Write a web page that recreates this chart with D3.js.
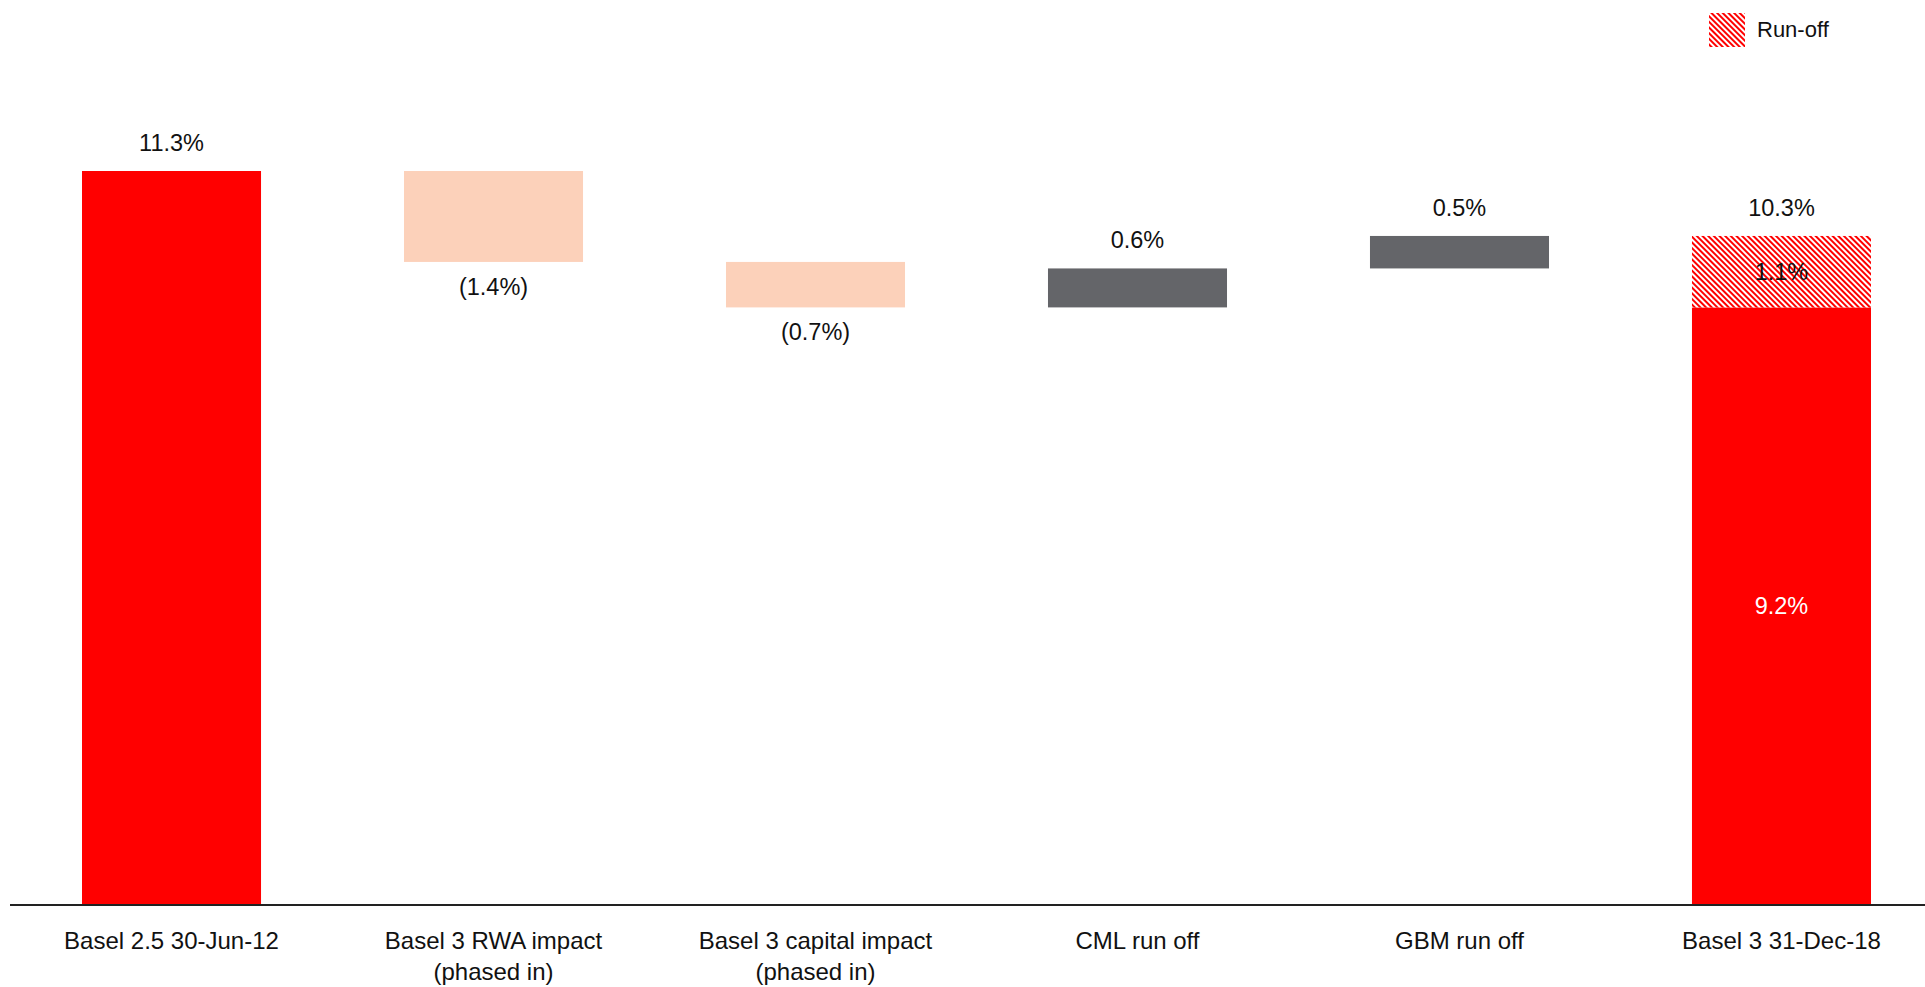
<!DOCTYPE html>
<html>
<head>
<meta charset="utf-8">
<script src="https://cdn.jsdelivr.net/npm/d3@7"></script>
<style>
  html, body { margin: 0; padding: 0; background: #fff; }
  svg { display: block; }
  text { font-family: "Liberation Sans", Arial, sans-serif; fill: #111; }
</style>
</head>
<body>
<svg id="chart" width="1925" height="987"></svg>
<script>
// ---- Data ----
const categories = [
  ["Basel 2.5 30-Jun-12"],
  ["Basel 3 RWA impact", "(phased in)"],
  ["Basel 3 capital impact", "(phased in)"],
  ["CML run off"],
  ["GBM run off"],
  ["Basel 3 31-Dec-18"]
];
const values = [11.3, -1.4, -0.7, 0.6, 0.5, 10.3];
const kinds = ["total", "decrease", "decrease", "increase", "increase", "total"];
const runoffParts = [0, 0, 0, 0, 0, 1.1];
const valueLabels = ["11.3%", "(1.4%)", "(0.7%)", "0.6%", "0.5%", "10.3%"];
const runoffLabels = ["", "", "", "", "", "1.1%"];
const baseLabels = ["", "", "", "", "", "9.2%"];
const legendLabel = "Run-off";

const colors = { total: "#FF0000", decrease: "#FCD1BA", increase: "#646569" };

// ---- Build waterfall segments ----
let running = 0;
const bars = values.map((v, i) => {
  let lo, hi;
  if (kinds[i] === "total") { lo = 0; hi = v; running = v; }
  else { const start = running; running += v; lo = Math.min(start, running); hi = Math.max(start, running); }
  return { i, v, lo, hi, kind: kinds[i], runoff: runoffParts[i] };
});

// ---- Scales ----
const svg = d3.select("#chart");
const x = d3.scaleBand().domain(d3.range(categories.length)).range([82, 1871]).paddingInner(0.444).paddingOuter(0);
const y = d3.scaleLinear().domain([0, 11.3]).range([905, 171]);

// ---- Pattern ----
const defs = svg.append("defs");
const pat = defs.append("pattern")
  .attr("id", "hatch").attr("patternUnits", "userSpaceOnUse")
  .attr("width", 4).attr("height", 4)
  .attr("patternTransform", "rotate(-45)");
pat.append("rect").attr("width", 4).attr("height", 4).attr("fill", "#fff");
pat.append("rect").attr("width", 2).attr("height", 4).attr("fill", "#FF0000");

// ---- Bars ----
const g = svg.append("g");
bars.forEach(b => {
  const bx = x(b.i), bw = x.bandwidth();
  const solidHi = b.hi - b.runoff;
  g.append("rect").attr("x", bx).attr("width", bw)
    .attr("y", y(solidHi)).attr("height", y(b.lo) - y(solidHi))
    .attr("fill", colors[b.kind]);
  if (b.runoff > 0) {
    g.append("rect").attr("x", bx).attr("width", bw)
      .attr("y", y(b.hi)).attr("height", y(solidHi) - y(b.hi))
      .attr("fill", "url(#hatch)");
  }
});

// ---- Value labels ----
bars.forEach(b => {
  const cx = x(b.i) + x.bandwidth() / 2;
  const t = g.append("text").attr("text-anchor", "middle").attr("font-size", 23.5).attr("x", cx);
  if (b.kind === "decrease") t.attr("y", y(b.lo) + 33);
  else t.attr("y", y(b.hi) - 20);
  t.text(valueLabels[b.i]);
  if (runoffLabels[b.i]) {
    const mid = b.hi - b.runoff / 2;
    g.append("text").attr("text-anchor", "middle").attr("font-size", 23.5)
      .attr("x", cx).attr("y", y(mid) + 8).text(runoffLabels[b.i]);
  }
  if (baseLabels[b.i]) {
    const mid = (b.hi - b.runoff) / 2;
    g.append("text").attr("text-anchor", "middle").attr("font-size", 23.5)
      .attr("x", cx).attr("y", y(mid) + 8).style("fill", "#fff").text(baseLabels[b.i]);
  }
});

// ---- Axis line ----
svg.append("line").attr("x1", 10).attr("x2", 1925).attr("y1", y(0)).attr("y2", y(0))
  .attr("stroke", "#222").attr("stroke-width", 2);

// ---- Category labels ----
categories.forEach((lines, i) => {
  const cx = x(i) + x.bandwidth() / 2;
  const t = svg.append("text").attr("text-anchor", "middle").attr("font-size", 24)
    .attr("x", cx).attr("y", 949);
  lines.forEach((ln, k) => {
    t.append("tspan").attr("x", cx).attr("dy", k === 0 ? 0 : 31).text(ln);
  });
});

// ---- Legend ----
const lg = svg.append("g");
lg.append("rect").attr("x", 1709).attr("y", 13).attr("width", 36).attr("height", 34).attr("fill", "url(#hatch)");
lg.append("text").attr("x", 1757).attr("y", 37).attr("font-size", 22).text(legendLabel);
</script>
</body>
</html>
